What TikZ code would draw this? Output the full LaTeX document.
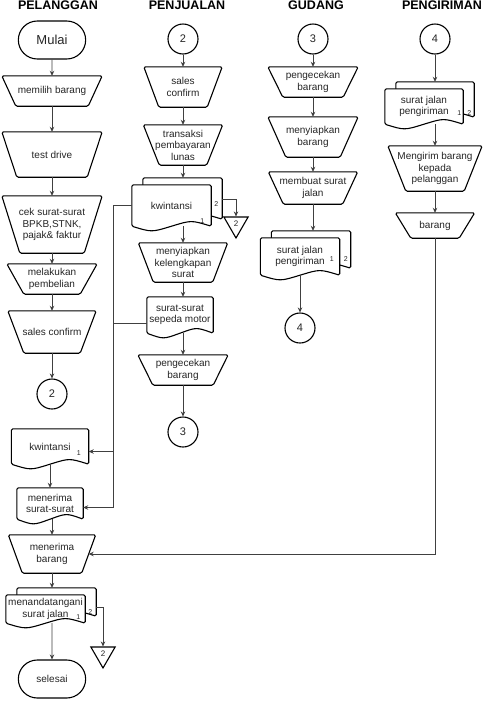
\documentclass[tikz,border=0pt]{standalone}
\usepackage{fontspec}
\setmainfont{Liberation Sans}
\usetikzlibrary{positioning, arrows.meta, shapes.geometric, shapes.misc, calc, backgrounds}
\tikzset{
  shp/.style={draw=black, line width=1.1pt, fill=white, rounded corners=1.5pt},
  proc/.style={rectangle, inner sep=1pt, align=center, text=black!85, font=\fontsize{10}{11.5}\selectfont},
  docu/.style={rectangle, inner sep=1pt, align=center, text=black!85, font=\fontsize{10}{11.5}\selectfont},
  term/.style={rounded rectangle, draw=black, line width=1.1pt, minimum width=74, minimum height=38, text=black!85},
  conn/.style={circle, draw=black, line width=1.1pt, minimum size=30, inner sep=0pt, text=black!85, font=\fontsize{11}{13}\selectfont},
  offpage/.style={regular polygon, regular polygon sides=3, shape border rotate=180, draw=black, line width=1.1pt, minimum size=28, inner sep=0pt, text=black!85, font=\fontsize{8}{9}\selectfont},
  num/.style={inner sep=0pt, text=black!85, font=\fontsize{7}{8}\selectfont},
  lane/.style={font=\fontsize{12.5}{15}\selectfont\bfseries},
  arr/.style={line width=0.7pt, draw=black!75, -{Stealth[length=5pt,width=4.5pt]}}
}
% manual operation: node name, inset of the bottom edge
\newcommand{\manop}[2]{%
  \begin{scope}[on background layer]
    \draw[shp] (#1.north west) -- (#1.north east) -- ([xshift=-#2pt]#1.south east) -- ([xshift=#2pt]#1.south west) -- cycle;
  \end{scope}}
% document outline with wavy bottom
\newcommand{\docpath}[1]{(#1.south west) -- (#1.north west) -- (#1.north east) -- (#1.south east)
  .. controls ($(#1.south east)!.5!(#1.south)+(0,-6)$) .. (#1.south)
  .. controls ($(#1.south west)!.5!(#1.south)+(0,6)$) .. (#1.south west) -- cycle}
\newcommand{\docshape}[1]{%
  \begin{scope}[on background layer]
    \draw[shp] \docpath{#1};
  \end{scope}}
\newcommand{\multidoc}[1]{%
  \begin{scope}[on background layer]
    \draw[shp, transform canvas={xshift=11pt, yshift=7pt}] \docpath{#1};
    \draw[shp] \docpath{#1};
  \end{scope}}

\begin{document}
\begin{tikzpicture}[x=1pt, y=-1pt]
  \useasboundingbox (0,0) rectangle (486,702);
  \begin{scope}[on background layer]
    \fill[white] (0,0) rectangle (486,702);
  \end{scope}

  % lanes
  \node[lane] (hpel) at (58,5.5) {PELANGGAN};
  \node[lane] (hpen) at (187,5.5) {PENJUALAN};
  \node[lane] (hgud) at (316,5.5) {GUDANG};
  \node[lane] (hkir) at (442,5.5) {PENGIRIMAN};

  % PELANGGAN
  \node[term, font=\fontsize{13}{15}\selectfont] (mulai) at (52,40) {Mulai};
  \node[proc, minimum width=100, minimum height=30] (pilih) at (52,91) {memilih barang};
  \manop{pilih}{14}
  \node[proc, minimum width=100, minimum height=45] (drive) at (52,154.5) {test drive};
  \manop{drive}{15}
  \node[proc, minimum width=100, minimum height=57] (cek) at (52,224.5) {cek surat-surat\\BPKB,STNK,\\pajak\& faktur};
  \manop{cek}{18}
  \node[proc, minimum width=90, minimum height=30] (beli) at (52,279) {melakukan\\pembelian};
  \manop{beli}{17}
  \node[proc, minimum width=88, minimum height=42] (sc1) at (52,332) {sales confirm};
  \manop{sc1}{16}
  \node[conn] (c2a) at (52,394) {2};

  \node[docu, minimum width=77, minimum height=35] (kw1) at (50,446.5) {kwintansi};
  \docshape{kw1}
  \node[num] (kw1n) at ([xshift=-10pt,yshift=11pt]kw1.south east) {1};
  \node[docu, minimum width=66, minimum height=31] (trm) at (50,503.5) {menerima\\surat-surat};
  \docshape{trm}
  \node[proc, minimum width=87, minimum height=38] (trb) at (52,554) {menerima\\barang};
  \manop{trb}{14}
  \node[docu, minimum width=79, minimum height=28] (ttd) at (45.5,609) {menandatangani\\surat jalan};
  \multidoc{ttd}
  \node[num] (ttdn1) at ([xshift=-7pt,yshift=6pt]ttd.south east) {1};
  \node[num] (ttdn2) at ([xshift=5pt,yshift=-3pt]ttd.east) {2};
  \node[offpage] (off1) at (103,654) {2};
  \node[term, font=\fontsize{10}{12}\selectfont] (selesai) at (52,679) {selesai};

  \draw[arr] (mulai) -- (pilih);
  \draw[arr] (pilih) -- (drive);
  \draw[arr] (drive) -- (cek);
  \draw[arr] (cek) -- (beli);
  \draw[arr] (beli) -- (sc1);
  \draw[arr] (sc1) -- (c2a);
  \draw[arr] (kw1) -- (trm);
  \draw[arr] (trm.south -| trb) -- (trb);
  \draw[arr] (trb) -- ([yshift=7pt]trb |- ttd.north);
  \draw[arr] (ttd.south -| selesai) -- (selesai);
  \draw[arr] ([xshift=11pt,yshift=2pt]ttd.east) -| (off1);

  % PENJUALAN
  \node[conn] (c2b) at (183,39) {2};
  \node[proc, minimum width=78, minimum height=40] (sc2) at (183,87) {sales\\confirm};
  \manop{sc2}{15}
  \node[proc, minimum width=79, minimum height=40] (lunas) at (183,145) {transaksi\\pembayaran\\lunas};
  \manop{lunas}{16}
  \node[docu, minimum width=79, minimum height=41] (kw2) at (171.5,205.5) {kwintansi};
  \multidoc{kw2}
  \node[num] (kw2n1) at ([xshift=-9pt,yshift=5pt]kw2.south east) {1};
  \node[num] (kw2n2) at ([xshift=5pt,yshift=1.5pt]kw2.east) {2};
  \node[offpage] (off2) at (236,224) {2};
  \node[proc, minimum width=89, minimum height=39] (siap) at (183,262.5) {menyiapkan\\kelengkapan\\surat};
  \manop{siap}{15}
  \node[docu, minimum width=66, minimum height=36] (spd) at (180,315) {surat-surat\\sepeda motor};
  \docshape{spd}
  \node[proc, minimum width=90, minimum height=30] (cek2) at (183,370) {pengecekan\\barang};
  \manop{cek2}{15}
  \node[conn] (c3a) at (183,432) {3};

  \draw[arr] (c2b) -- (sc2);
  \draw[arr] (sc2) -- (lunas);
  \draw[arr] (lunas) -- ([yshift=7pt]lunas |- kw2.north);
  \draw[arr] (kw2.south -| siap) -- (siap);
  \draw[arr] (siap) -- (siap |- spd.north);
  \draw[arr] (spd.south -| cek2) -- (cek2);
  \draw[arr] (cek2) -- (c3a);
  \draw[arr] ([xshift=11pt,yshift=6pt]kw2.east) -| (off2);
  \coordinate (bus) at (113,0);
  \draw[arr] (kw2.west) -- (kw2.west -| bus) |- ([yshift=-5pt]kw1.east);
  \draw[arr] ([yshift=-8pt]spd.west) -- ([yshift=-8pt]spd.west -| bus) |- ([yshift=-4pt]trm.east);

  % GUDANG
  \node[conn] (c3b) at (313,39) {3};
  \node[proc, minimum width=90, minimum height=30] (cek3) at (313,82) {pengecekan\\barang};
  \manop{cek3}{15}
  \node[proc, minimum width=90, minimum height=40] (siap3) at (313,137) {menyiapkan\\barang};
  \manop{siap3}{18}
  \node[proc, minimum width=89, minimum height=32] (sjln) at (313,188) {membuat surat\\jalan};
  \manop{sjln}{15}
  \node[docu, minimum width=79, minimum height=37] (sj3) at (300,256.5) {surat jalan\\pengiriman};
  \multidoc{sj3}
  \node[num] (sj3n1) at ([xshift=-8pt,yshift=16pt]sj3.south east) {1};
  \node[num] (sj3n2) at ([xshift=6pt,yshift=-2.5pt]sj3.east) {2};
  \node[conn] (c4a) at (300,328) {4};

  \draw[arr] (c3b) -- (cek3);
  \draw[arr] (cek3) -- (siap3);
  \draw[arr] (siap3) -- (sjln);
  \draw[arr] (sjln) -- ([yshift=7pt]sjln |- sj3.north);
  \draw[arr] (sj3) -- (c4a);

  % PENGIRIMAN
  \node[conn] (c4b) at (435,39) {4};
  \node[docu, minimum width=78, minimum height=35] (sj4) at (424,106.5) {surat jalan\\pengiriman};
  \multidoc{sj4}
  \node[num] (sj4n1) at ([xshift=-4pt,yshift=11pt]sj4.south east) {1};
  \node[num] (sj4n2) at ([xshift=6pt,yshift=-6.5pt]sj4.east) {2};
  \node[proc, minimum width=94, minimum height=45] (kirim) at (435,168.5) {Mengirim barang\\kepada\\pelanggan};
  \manop{kirim}{18}
  \node[proc, minimum width=79, minimum height=25] (brg) at (435,225.5) {barang};
  \manop{brg}{15.5}

  \draw[arr] (c4b) -- ([yshift=7pt]c4b |- sj4.north);
  \draw[arr] (sj4.south -| kirim) -- (kirim);
  \draw[arr] (kirim) -- (brg);
  \draw[arr] (brg) |- ([xshift=-7pt]trb.east);
\end{tikzpicture}
\end{document}
